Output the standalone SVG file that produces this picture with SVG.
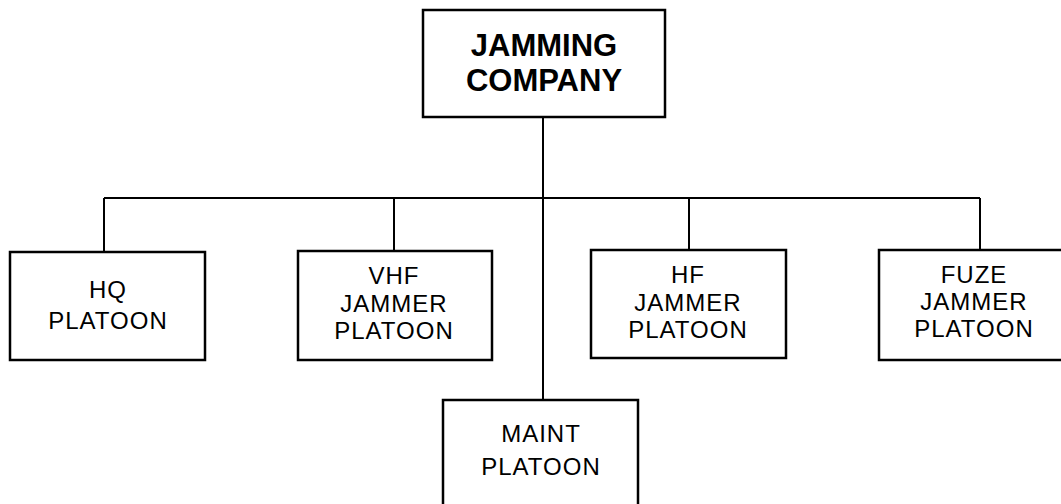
<svg xmlns="http://www.w3.org/2000/svg" width="1061" height="504" viewBox="0 0 1061 504">
<style>
.box{fill:#fff;stroke:#000;stroke-width:2.5}
.ln{fill:none;stroke:#000;stroke-width:2}
text{font-family:"Liberation Sans",Arial,sans-serif;fill:#000;text-anchor:middle}
.b{font-weight:bold;font-size:31px}
.r{font-size:24px;letter-spacing:1px}
</style>
<rect width="1061" height="504" fill="#fff"/>
<g id="connectors">
<line class="ln" x1="543" y1="117" x2="543" y2="400"/>
<line class="ln" x1="104" y1="198" x2="980" y2="198"/>
<line class="ln" x1="104" y1="198" x2="104" y2="252"/>
<line class="ln" x1="394" y1="198" x2="394" y2="251"/>
<line class="ln" x1="689" y1="198" x2="689" y2="250"/>
<line class="ln" x1="980" y1="198" x2="980" y2="250"/>
</g>
<g id="company">
<rect class="box" x="423" y="10" width="242" height="107"/>
<text class="b" x="544" y="56">JAMMING</text>
<text class="b" x="544" y="91">COMPANY</text>
</g>
<g id="hq">
<rect class="box" x="10" y="252" width="195" height="108"/>
<text class="r" x="108" y="298">HQ</text>
<text class="r" x="108" y="329">PLATOON</text>
</g>
<g id="vhf">
<rect class="box" x="298" y="251" width="194" height="109"/>
<text class="r" x="394" y="284">VHF</text>
<text class="r" x="394" y="312">JAMMER</text>
<text class="r" x="394" y="339">PLATOON</text>
</g>
<g id="hf">
<rect class="box" x="591" y="250" width="195" height="108"/>
<text class="r" x="688" y="283">HF</text>
<text class="r" x="688" y="311">JAMMER</text>
<text class="r" x="688" y="338">PLATOON</text>
</g>
<g id="fuze">
<rect class="box" x="879" y="250" width="195" height="110"/>
<text class="r" x="974" y="283">FUZE</text>
<text class="r" x="974" y="310">JAMMER</text>
<text class="r" x="974" y="337">PLATOON</text>
</g>
<g id="maint">
<rect class="box" x="443" y="400" width="195" height="115"/>
<text class="r" x="541" y="442">MAINT</text>
<text class="r" x="541" y="475">PLATOON</text>
</g>
</svg>
